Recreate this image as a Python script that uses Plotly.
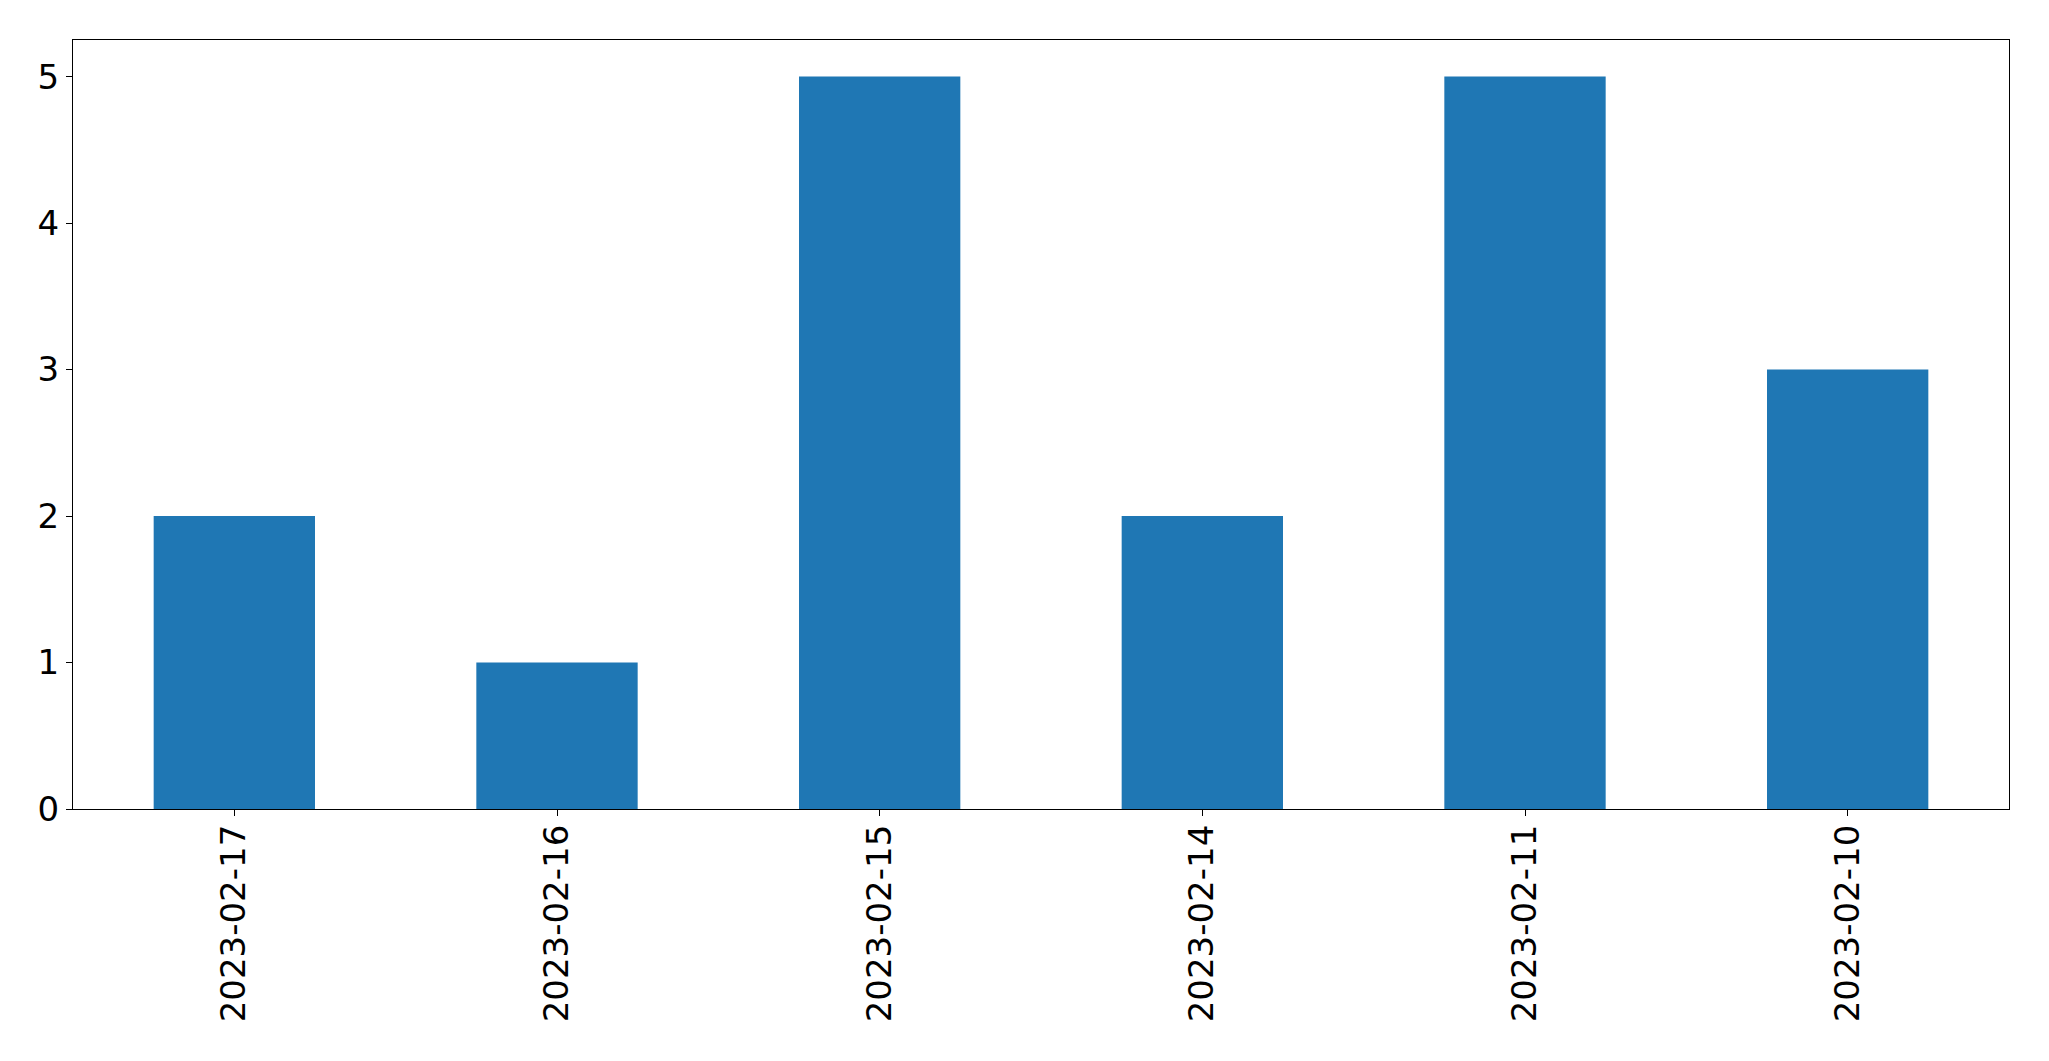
import plotly.graph_objects as go

dates = ["2023-02-17", "2023-02-16", "2023-02-15", "2023-02-14", "2023-02-11", "2023-02-10"]
counts = [2, 1, 5, 2, 5, 3]
y_ticks = [0, 1, 2, 3, 4, 5]

fig = go.Figure(go.Bar(x=dates, y=counts, width=0.5, marker=dict(color="#1f77b4", line=dict(width=0))))

fig.update_layout(
    width=2041, height=1053,
    margin=dict(l=64.5, r=40, t=31.5, b=252, pad=0, autoexpand=False),
    plot_bgcolor="white", paper_bgcolor="white",
    font=dict(family="DejaVu Sans", size=34, color="black"),
    showlegend=False,
)
fig.update_xaxes(
    type="category", range=[-0.5, 5.5], tickangle=-90,
    showline=True, mirror=True, linecolor="black", linewidth=1.3,
    ticks="outside", ticklen=6, tickwidth=1.3, tickcolor="black",
    showgrid=False, zeroline=False, automargin=False, ticklabelstandoff=-5,
)
fig.update_yaxes(
    range=[0, 5.25], tickvals=y_ticks,
    showline=True, mirror=True, linecolor="black", linewidth=1.3,
    ticks="outside", ticklen=6, tickwidth=1.3, tickcolor="black",
    showgrid=False, zeroline=False, automargin=False,
)

fig.write_html("out.html")
